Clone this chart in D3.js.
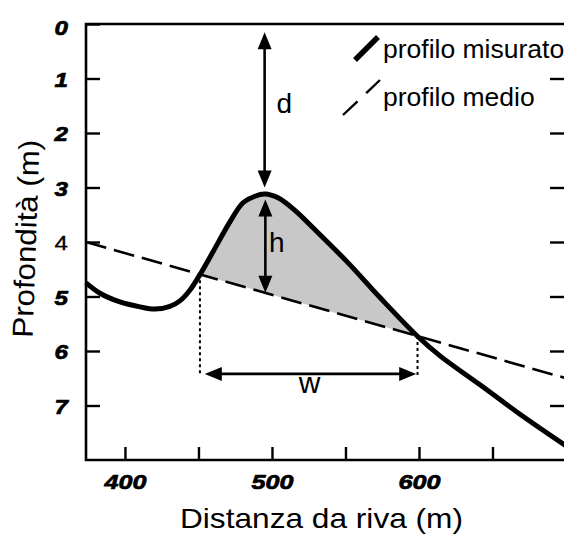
<!DOCTYPE html>
<html><head><meta charset="utf-8">
<script src="https://cdn.jsdelivr.net/npm/d3@7/dist/d3.min.js"></script>
<style>body{margin:0;background:#fff}svg{display:block}</style>
</head><body>
<script>
// ---- data ----
const xDomain = [373.5, 700];
const yDomain = [0, 8];
const xTicks = [400, 450, 500, 550, 600, 650];
const xTickLabels = [400, 500, 600];
const yTicks = [0, 1, 2, 3, 4, 5, 6, 7];
const yTickLabels = ["0", "1", "2", "3", "4", "5", "6", "7"];
const profileX =     [373.5, 383, 396.6, 410.2, 420.4, 430.6, 437.4, 444, 451, 459.9, 471.4, 480.3, 488.4, 495.2, 504.1, 515.6, 527.9, 551, 573.5, 599, 614.3, 641.5, 668.7, 700];
const profileDepth = [4.75, 4.94, 5.10, 5.19, 5.23, 5.18, 5.08, 4.89, 4.60, 4.18, 3.63, 3.28, 3.16, 3.12, 3.19, 3.42, 3.74, 4.36, 5.02, 5.73, 6.09, 6.62, 7.16, 7.74];
const meanX = [373.5, 700];
const meanDepth = [4.0, 6.5];
const barRange = [451, 599];
const dArrowX = 495, dArrowDepth = [0.15, 3.0];
const hArrowX = 495.5, hArrowDepth = [3.22, 4.93];
const wArrowX = [454.3, 598.1], wArrowDepth = 6.42;
const dotBottomDepth = 6.45;
const annoText = ["d", "h", "w"];
const annoX = [503, 498, 525.5];
const annoDepth = [1.64, 4.18, 6.77];
const legendLabels = ["profilo misurato", "profilo medio"];
const xTitle = "Distanza da riva (m)";
const yTitle = "Profondità (m)";

// ---- layout ----
const W = 564, H = 537;
const pL = 86, pR = 566, pT = 24, pB = 460;
const font = "'Liberation Sans', Arial, sans-serif";

const svg = d3.select("body").append("svg").attr("width", W).attr("height", H);
const x = d3.scaleLinear().domain(xDomain).range([pL, pR]);
const y = d3.scaleLinear().domain(yDomain).range([pT, pB]);
const meanAt = d3.scaleLinear().domain(meanX).range(meanDepth);
const curve = d3.curveCatmullRom.alpha(0.5);

const profile = profileX.map((v, i) => ({x: v, d: profileDepth[i]}));

// shaded bar
svg.append("clipPath").attr("id", "barclip").append("rect")
  .attr("x", x(barRange[0])).attr("width", x(barRange[1]) - x(barRange[0]))
  .attr("y", pT).attr("height", pB - pT);
svg.append("path").datum(profile)
  .attr("clip-path", "url(#barclip)")
  .attr("fill", "#c8c8c8")
  .attr("d", d3.area().curve(curve)
    .x(p => x(p.x)).y0(p => y(meanAt(p.x))).y1(p => y(p.d)));

// mean profile
svg.append("path").datum(meanX.map((v, i) => ({x: v, d: meanDepth[i]})))
  .attr("fill", "none").attr("stroke", "#000").attr("stroke-width", 2.6)
  .attr("stroke-dasharray", "21,8")
  .attr("d", d3.line().x(p => x(p.x)).y(p => y(p.d)));

// measured profile
svg.append("path").datum(profile)
  .attr("fill", "none").attr("stroke", "#000").attr("stroke-width", 5)
  .attr("d", d3.line().curve(curve).x(p => x(p.x)).y(p => y(p.d)));

// dotted verticals
barRange.forEach(v => {
  svg.append("line").attr("x1", x(v)).attr("x2", x(v))
    .attr("y1", y(meanAt(v))).attr("y2", y(dotBottomDepth))
    .attr("stroke", "#000").attr("stroke-width", 2).attr("stroke-dasharray", "3,3");
});

// arrowheads
function head(px, py, dir) {
  const L = 17, Wd = 7;
  const bx = px - L * Math.cos(dir), by = py - L * Math.sin(dir);
  const nx = -Math.sin(dir) * Wd, ny = Math.cos(dir) * Wd;
  svg.append("path").attr("fill", "#000")
    .attr("d", `M${px},${py}L${bx + nx},${by + ny}L${bx - nx},${by - ny}Z`);
}
function dblArrow(x1, y1, x2, y2) {
  const a = Math.atan2(y2 - y1, x2 - x1);
  const L = 14;
  svg.append("line")
    .attr("x1", x1 + L * Math.cos(a)).attr("y1", y1 + L * Math.sin(a))
    .attr("x2", x2 - L * Math.cos(a)).attr("y2", y2 - L * Math.sin(a))
    .attr("stroke", "#000").attr("stroke-width", 2.6);
  head(x2, y2, a);
  head(x1, y1, a + Math.PI);
}
dblArrow(x(dArrowX), y(dArrowDepth[0]), x(dArrowX), y(dArrowDepth[1]));
dblArrow(x(hArrowX), y(hArrowDepth[0]), x(hArrowX), y(hArrowDepth[1]));
dblArrow(x(wArrowX[0]), y(wArrowDepth), x(wArrowX[1]), y(wArrowDepth));

// annotation letters
annoText.forEach((t, i) => {
  svg.append("text").attr("x", x(annoX[i])).attr("y", y(annoDepth[i]))
    .attr("text-anchor", i === 2 ? "middle" : "start")
    .attr("font-family", font).attr("font-size", i === 2 ? 30 : 28).text(t);
});

// frame
svg.append("path").attr("fill", "none").attr("stroke", "#000").attr("stroke-width", 2.6)
  .attr("d", `M${pR},${pT}H${pL}V${pB}H${pR}`);

function stretch(sel, f) {
  sel.each(function () {
    const l = this.getComputedTextLength();
    d3.select(this).attr("textLength", l * f).attr("lengthAdjust", "spacingAndGlyphs");
  });
}

// axes
const gx = svg.append("g").attr("transform", `translate(0,${pB})`)
  .call(d3.axisBottom(x).tickValues(xTicks).tickSizeInner(-13).tickSizeOuter(0).tickPadding(26)
    .tickFormat(v => xTickLabels.includes(v) ? String(v) : ""));
gx.select(".domain").remove();
gx.selectAll(".tick line").attr("stroke-width", 2.4);
gx.selectAll(".tick text").attr("font-family", font).attr("font-size", 21)
  .attr("font-weight", "bold").attr("font-style", "italic").attr("fill", "#000")
  .attr("stroke", "#000").attr("stroke-width", 0.7)
  .attr("dy", "0").attr("y", 29);
stretch(gx.selectAll(".tick text"), 1.2);

const gy = svg.append("g").attr("transform", `translate(${pL},0)`)
  .call(d3.axisLeft(y).tickValues(yTicks).tickSizeInner(-14).tickSizeOuter(0).tickPadding(18)
    .tickFormat((v, i) => yTickLabels[i]));
gy.select(".domain").remove();
gy.selectAll(".tick line").attr("stroke-width", 2.4);
gy.selectAll(".tick text").attr("font-family", font).attr("font-size", 21)
  .attr("font-weight", v => v === 4 ? "normal" : "bold")
  .attr("font-style", v => v === 4 ? "normal" : "italic")
  .attr("stroke", "#000").attr("stroke-width", v => v === 4 ? 0.3 : 0.7)
  .attr("fill", "#000").attr("dy", v => v === 0 ? "0.5em" : "0.36em").attr("x", -18);
stretch(gy.selectAll(".tick text"), 1.15);

const gr = svg.append("g").attr("transform", `translate(${pR},0)`)
  .call(d3.axisRight(y).tickValues(yTicks.filter(v => v > 0)).tickSizeInner(-16).tickSizeOuter(0).tickFormat(""));
gr.select(".domain").remove();
gr.selectAll(".tick line").attr("stroke-width", 2.4);

// titles
svg.append("text").attr("x", 321.5).attr("y", 528)
  .attr("text-anchor", "middle").attr("font-family", font).attr("font-size", 28).text(xTitle)
  .attr("textLength", 283).attr("lengthAdjust", "spacingAndGlyphs");
svg.append("text").attr("transform", "translate(36,239) rotate(-88)")
  .attr("text-anchor", "middle").attr("font-family", font).attr("font-size", 29).text(yTitle)
  .attr("textLength", 198).attr("lengthAdjust", "spacingAndGlyphs");

// legend
svg.append("line").attr("x1", 355).attr("y1", 60).attr("x2", 378).attr("y2", 37)
  .attr("stroke", "#000").attr("stroke-width", 5.5);
svg.append("line").attr("x1", 343).attr("y1", 115).attr("x2", 380).attr("y2", 80)
  .attr("stroke", "#000").attr("stroke-width", 2.4).attr("stroke-dasharray", "20,12");
legendLabels.forEach((t, i) => {
  svg.append("text").attr("x", 383).attr("y", i === 0 ? 58 : 106)
    .attr("font-family", font).attr("font-size", 26.5).text(t);
});
</script>
</body></html>
